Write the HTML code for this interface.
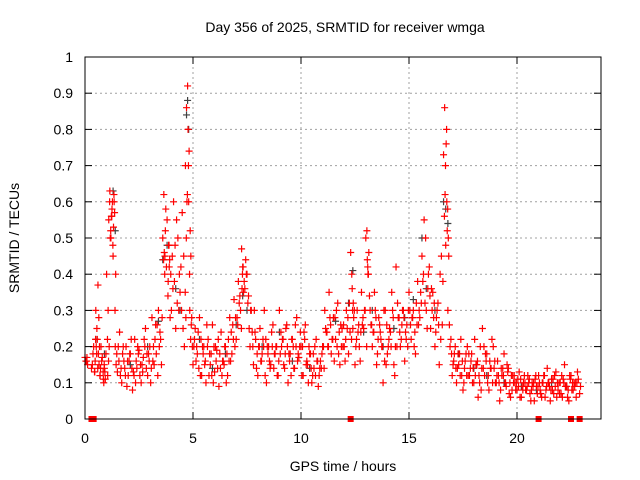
<!DOCTYPE html>
<html><head><meta charset="utf-8"><style>
body{margin:0;background:#fff;}
svg{display:block;font-family:"Liberation Sans",sans-serif;}
</style></head><body>
<svg id="chart" width="640" height="480" viewBox="0 0 640 480">
<rect width="640" height="480" fill="#fff"/>
<g id="grid"></g>
<g id="grayPts"></g>
<g id="redPts"></g>
<g id="axes"></g>
<text x="345" y="32" font-size="14" text-anchor="middle">Day 356 of 2025, SRMTID for receiver wmga</text>
<text x="343" y="471" font-size="14" text-anchor="middle">GPS time / hours</text>
<text transform="translate(19,238) rotate(-90)" font-size="14" text-anchor="middle">SRMTID / TECUs</text>
</svg>
<script>
const xTicks=[0,5,10,15,20];
const yTicks=[0,0.1,0.2,0.3,0.4,0.5,0.6,0.7,0.8,0.9,1];
const yTickLabels=["0","0.1","0.2","0.3","0.4","0.5","0.6","0.7","0.8","0.9","1"];
const redT=[0,0.05,0.3,0.4,0.45,0.5,0.55,0.6,0.65,0.7,0.8,0.85,0.9,1.0,1.05,1.1,1.15,1.2,1.25,1.3,1.35,1.4,1.5,1.6,1.7,1.8,1.9,2.0,2.1,2.2,2.3,2.4,2.5,2.6,2.7,2.8,2.9,3.0,3.1,3.2,3.3,3.4,3.5,3.6,3.65,3.7,3.8,3.85,3.9,4.0,4.1,4.2,4.3,4.4,4.5,4.6,4.65,4.7,4.75,4.8,4.85,4.9,5.0,5.1,5.2,5.3,5.4,5.5,5.6,5.7,5.8,5.9,6.0,6.1,6.2,6.3,6.4,6.5,6.6,6.7,6.8,6.9,7.0,7.1,7.2,7.25,7.3,7.4,7.5,7.6,7.7,7.8,7.9,8.0,8.1,8.2,8.3,8.4,8.5,8.6,8.7,8.8,8.9,9.0,9.1,9.2,9.3,9.4,9.5,9.6,9.7,9.8,9.9,10.0,10.1,10.2,10.3,10.4,10.5,10.6,10.7,10.8,10.9,11.0,11.1,11.2,11.3,11.4,11.5,11.6,11.7,11.8,11.9,12.0,12.1,12.2,12.3,12.35,12.4,12.5,12.6,12.7,12.8,12.9,13.0,13.05,13.1,13.2,13.3,13.4,13.5,13.6,13.7,13.8,13.9,14.0,14.1,14.2,14.3,14.4,14.5,14.6,14.7,14.8,14.9,15.0,15.1,15.2,15.3,15.4,15.5,15.6,15.7,15.8,15.9,16.0,16.1,16.2,16.3,16.4,16.5,16.6,16.65,16.7,16.75,16.8,16.9,17.0,17.1,17.2,17.3,17.4,17.5,17.6,17.7,17.8,17.9,18.0,18.1,18.2,18.3,18.4,18.5,18.6,18.7,18.8,18.9,19.0,19.1,19.2,19.3,19.4,19.5,19.6,19.7,19.8,19.9,20.0,20.1,20.2,20.3,20.4,20.5,20.6,20.7,20.8,20.9,21.0,21.1,21.2,21.3,21.4,21.5,21.6,21.7,21.8,21.9,22.0,22.1,22.2,22.3,22.4,22.5,22.6,22.7,22.8,22.9];
const redV=[.17,.16,.14,.2,.13,.3,.25,.37,.15,.12,.17,.11,.14,.4,.12,.55,.63,.5,.58,.45,.6,.2,.13,.24,.1,.16,.2,.12,.18,.08,.22,.14,.19,.1,.17,.25,.12,.2,.28,.15,.18,.3,.22,.5,.62,.45,.55,.38,.42,.3,.6,.25,.5,.35,.57,.2,.7,.86,.92,.6,.3,.45,.15,.25,.18,.28,.12,.2,.1,.22,.15,.26,.13,.19,.09,.24,.16,.2,.12,.28,.18,.33,.22,.38,.3,.47,.42,.36,.4,.25,.3,.15,.22,.12,.25,.18,.3,.1,.2,.15,.26,.18,.12,.3,.2,.15,.25,.1,.18,.22,.14,.28,.17,.2,.12,.26,.15,.18,.1,.14,.22,.09,.16,.2,.3,.24,.35,.18,.28,.22,.32,.15,.25,.2,.3,.18,.46,.4,.25,.15,.3,.2,.35,.25,.5,.52,.4,.3,.2,.35,.15,.28,.22,.1,.3,.18,.25,.35,.15,.42,.28,.2,.3,.16,.26,.35,.22,.3,.18,.38,.28,.45,.55,.3,.4,.25,.35,.2,.3,.15,.45,.73,.86,.48,.6,.3,.2,.12,.18,.1,.15,.22,.08,.16,.2,.12,.18,.1,.15,.06,.2,.25,.12,.18,.08,.14,.2,.1,.16,.05,.12,.18,.09,.14,.06,.12,.1,.08,.13,.06,.1,.08,.12,.07,.1,.05,.09,.12,.07,.1,.06,.14,.09,.11,.07,.13,.08,.1,.06,.15,.09,.05,.12,.08,.1,.13,.07];
const redV2=[.16,.17,.15,.13,.22,.18,.14,.28,.12,.2,.13,.15,.11,.22,.16,.6,.52,.56,.48,.62,.3,.15,.2,.12,.18,.14,.09,.16,.22,.13,.1,.2,.12,.15,.22,.14,.18,.1,.16,.22,.26,.2,.15,.44,.4,.58,.34,.48,.28,.45,.38,.55,.3,.42,.25,.35,.5,.62,.7,.4,.22,.28,.2,.16,.24,.12,.2,.15,.26,.12,.18,.1,.2,.14,.18,.12,.15,.1,.22,.16,.26,.2,.28,.32,.25,.4,.35,.44,.32,.2,.24,.3,.14,.2,.16,.22,.12,.2,.16,.24,.14,.2,.12,.18,.22,.14,.26,.18,.12,.2,.26,.16,.2,.12,.24,.15,.1,.18,.12,.2,.16,.12,.14,.2,.25,.2,.28,.22,.16,.3,.18,.26,.2,.16,.25,.32,.22,.3,.28,.2,.24,.16,.26,.3,.2,.42,.46,.26,.24,.3,.18,.26,.2,.3,.15,.2,.24,.3,.12,.2,.28,.22,.3,.24,.2,.3,.28,.2,.32,.26,.35,.38,.32,.25,.42,.36,.28,.24,.32,.4,.26,.56,.7,.8,.58,.45,.22,.15,.2,.14,.18,.12,.1,.18,.12,.14,.1,.22,.15,.12,.08,.14,.18,.1,.16,.22,.14,.1,.12,.08,.14,.1,.15,.07,.12,.1,.08,.11,.06,.09,.12,.08,.1,.05,.09,.11,.07,.1,.06,.12,.08,.1,.05,.08,.12,.06,.1,.07,.11,.09,.06,.12,.08,.1,.06,.11,.09,.12];
const redV3=[.16,.15,.18,.16,.2,.22,.18,.2,.14,.16,.1,.13,.18,.3,.2,.5,.56,.6,.53,.57,.4,.18,.16,.14,.2,.12,.16,.18,.14,.12,.16,.18,.15,.13,.2,.18,.16,.14,.2,.26,.12,.24,.28,.46,.52,.42,.48,.44,.4,.36,.48,.32,.4,.3,.45,.28,.6,.8,.74,.52,.26,.2,.22,.2,.14,.22,.18,.16,.2,.18,.12,.2,.16,.22,.14,.16,.2,.18,.16,.24,.22,.28,.26,.34,.36,.42,.38,.4,.34,.3,.2,.24,.18,.2,.16,.2,.22,.18,.14,.2,.18,.2,.16,.24,.22,.18,.2,.16,.22,.14,.2,.18,.24,.2,.22,.16,.2,.14,.18,.12,.16,.14,.18,.14,.24,.2,.26,.22,.28,.2,.24,.2,.26,.22,.28,.24,.36,.32,.3,.22,.26,.24,.28,.3,.44,.4,.34,.26,.24,.28,.22,.24,.2,.16,.26,.22,.2,.28,.2,.32,.24,.26,.28,.22,.3,.26,.28,.24,.26,.3,.32,.4,.5,.36,.34,.3,.32,.28,.26,.22,.38,.62,.76,.52,.5,.26,.18,.16,.14,.18,.12,.16,.14,.12,.18,.16,.14,.12,.16,.1,.14,.2,.16,.12,.14,.1,.16,.12,.1,.14,.12,.1,.13,.1,.08,.12,.1,.09,.11,.08,.1,.09,.11,.08,.1,.12,.09,.08,.1,.12,.09,.1,.08,.11,.09,.1,.07,.12,.1,.09,.08,.11,.1,.09,.1];
const grayT=[0.5,0.9,1.3,1.4,2.1,2.9,3.4,3.6,3.8,4.2,4.4,4.7,4.75,4.8,5.3,5.9,6.5,7.0,7.3,7.5,8.2,9.0,9.6,10.4,11.0,11.6,12.2,12.4,12.9,13.3,13.8,14.3,14.8,15.2,15.6,15.8,16.2,16.6,16.7,16.8,17.3,18.0,18.6,19.4,20.2,20.9,21.6,22.3];
const grayV=[.22,.18,.63,.52,.15,.2,.27,.44,.48,.36,.3,.84,.88,.8,.22,.14,.18,.26,.34,.3,.2,.24,.16,.14,.2,.27,.32,.41,.24,.3,.2,.25,.28,.33,.5,.36,.3,.6,.58,.54,.18,.14,.12,.1,.09,.08,.1,.09];
const zeroT=[0.3,0.4,12.3,21.0,22.5,22.9];

const X0=85,X1=601,Y0=419,Y1=57;
const xs=t=>X0+t*21.6;
const ys=v=>Y0-v*(Y0-Y1);
const NS="http://www.w3.org/2000/svg";
function mk(tag,attrs,parent){const e=document.createElementNS(NS,tag);for(const k in attrs)e.setAttribute(k,attrs[k]);parent.appendChild(e);return e;}
const grid=document.getElementById('grid'),axes=document.getElementById('axes');
yTicks.forEach((v,i)=>{
  const y=ys(v);
  if(i>0&&i<yTicks.length-1){const g=mk('line',{x1:X0,x2:X1,y1:y,y2:y,stroke:'#a0a0a0','stroke-dasharray':'2,3'},grid);
  
  }
  mk('line',{x1:X0,x2:X0+7,y1:y,y2:y,stroke:'#000'},axes);
  mk('line',{x1:X1,x2:X1-7,y1:y,y2:y,stroke:'#000'},axes);
  const t=mk('text',{x:X0-12,y:y+5,'font-size':14,'text-anchor':'end'},axes);
  t.textContent=yTickLabels[i];
  
  
});
xTicks.forEach(v=>{
  const x=xs(v);
  if(v>0){const g=mk('line',{x1:x,x2:x,y1:Y0,y2:Y1,stroke:'#a0a0a0','stroke-dasharray':'2,3'},grid);
  
  }
  mk('line',{x1:x,x2:x,y1:Y0,y2:Y0-7,stroke:'#000'},axes);
  mk('line',{x1:x,x2:x,y1:Y1,y2:Y1+7,stroke:'#000'},axes);
  const t=mk('text',{x:x,y:Y0+24,'font-size':14,'text-anchor':'middle'},axes);
  t.textContent=String(v);
  
  
});
const frame=mk('rect',{x:X0,y:Y1,width:X1-X0,height:Y0-Y1,fill:'none',stroke:'#000'},axes);


function plus(g,t,v,color){
  const x=xs(t),y=ys(v);
  const p=mk('path',{d:`M${x-3.5},${y}h7M${x},${y-3.5}v7`,stroke:color,'stroke-width':1.2,fill:'none'},g);
  
  
}
const gp=document.getElementById('grayPts'),rp=document.getElementById('redPts');
grayT.forEach((t,i)=>plus(gp,t,grayV[i],'#404040'));
redT.forEach((t,i)=>{plus(rp,t,redV[i],'#ff0000');plus(rp,t+0.04,redV2[i],'#ff0000');plus(rp,t+0.07,redV3[i],'#ff0000');});
zeroT.forEach(t=>{
  const r=mk('rect',{x:xs(t)-3,y:Y0-3,width:6,height:6,fill:'#ff0000'},rp);
  
  
});
</script>
</body></html>
